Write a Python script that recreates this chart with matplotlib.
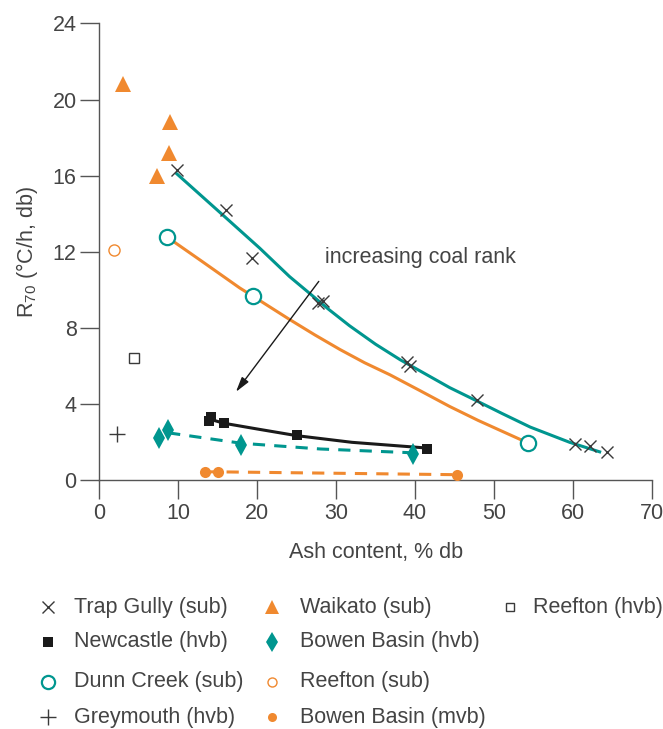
import matplotlib
matplotlib.use("Agg")
from matplotlib import pyplot as plt

plt.rcParams['font.family'] = ['Liberation Sans', 'DejaVu Sans']
plt.rcParams['mathtext.fontset'] = 'custom'
plt.rcParams['mathtext.rm'] = 'Liberation Sans'

TEAL = '#00968f'
ORANGE = '#f0892f'
GREY = '#3a3a3a'
TXT = '#444444'
FS = 15.5

# data
trap_x = [9.8, 16.0, 19.3, 27.7, 28.3, 39.0, 39.4, 47.8, 60.3, 62.2, 64.3]
trap_y = [16.3, 14.2, 11.7, 9.3, 9.4, 6.2, 6.0, 4.2, 1.9, 1.8, 1.5]
trap_fit_x = [9.8, 16.0, 20.3, 24.1, 26.7, 29.0, 31.7, 35.0, 38.1, 44.4, 47.8, 51.0, 54.6, 59.6, 63.4]
trap_fit_y = [16.1, 13.8, 12.2, 10.7, 9.8, 9.0, 8.12, 7.15, 6.34, 4.87, 4.18, 3.52, 2.8, 2.0, 1.5]

waikato_x = [3.0, 8.9, 8.8, 7.3]
waikato_y = [20.8, 18.8, 17.2, 16.0]

dunn_x = [8.5, 19.5, 54.3]
dunn_y = [12.8, 9.66, 1.97]
dunn_fit_x = [8.5, 13.0, 17.8, 19.5, 24.1, 27.3, 30.5, 33.6, 36.8, 40.6, 44.4, 48.0, 51.2, 54.3]
dunn_fit_y = [12.8, 11.5, 10.1, 9.66, 8.45, 7.64, 6.87, 6.18, 5.55, 4.72, 3.88, 3.15, 2.55, 1.97]

newc_x = [14.1, 13.9, 15.8, 25.0, 41.5]
newc_y = [3.35, 3.1, 3.0, 2.4, 1.65]
newc_fit_x = [14.1, 15.8, 20.0, 25.0, 32.0, 41.5]
newc_fit_y = [3.2, 3.0, 2.7, 2.35, 2.0, 1.7]

bowen_hvb_x = [7.5, 8.7, 18.0, 39.7]
bowen_hvb_y = [2.25, 2.65, 1.85, 1.4]
bowen_hvb_fit_x = [8.7, 18.0, 28.0, 39.7]
bowen_hvb_fit_y = [2.5, 1.95, 1.65, 1.45]

bowen_mvb_x = [13.4, 15.0, 45.3]
bowen_mvb_y = [0.45, 0.45, 0.3]

grey_x, grey_y = [2.2], [2.45]
reef_hvb_x, reef_hvb_y = [4.4], [6.45]
reef_sub_x, reef_sub_y = [1.8], [12.1]

arrow_start = (27.8, 10.45)
arrow_end = (17.3, 4.65)

fig = plt.figure(figsize=(6.63, 7.29), dpi=100)
ax = fig.add_axes([0.150, 0.341, 0.833, 0.627])

# trend lines
ax.plot(trap_fit_x, trap_fit_y, color=TEAL, lw=2.2, zorder=2)
ax.plot(dunn_fit_x, dunn_fit_y, color=ORANGE, lw=2.2, zorder=2)
ax.plot(newc_fit_x, newc_fit_y, color='#1a1a1a', lw=2.2, zorder=2)
ax.plot(bowen_hvb_fit_x, bowen_hvb_fit_y, color=TEAL, lw=2.2, ls=(0, (4, 3)), zorder=2)
ax.plot(bowen_mvb_x, bowen_mvb_y, color=ORANGE, lw=2.2, ls=(0, (4, 3)), zorder=2)

# points
ax.plot(trap_x, trap_y, 'x', color=GREY, ms=9, mew=1.0, zorder=4)
ax.plot(waikato_x, waikato_y, '^', color=ORANGE, ms=11, mew=0, zorder=4)
ax.plot(dunn_x, dunn_y, 'o', mfc='white', mec=TEAL, ms=11, mew=1.6, zorder=4)
ax.plot(newc_x, newc_y, 's', color='#1a1a1a', ms=7, mew=0, zorder=4)
ax.plot(bowen_hvb_x, bowen_hvb_y, 'd', color=TEAL, ms=11, mew=0, zorder=4)
ax.plot(bowen_mvb_x, bowen_mvb_y, 'o', color=ORANGE, ms=8, mew=0, zorder=4)
ax.plot(grey_x, grey_y, '+', color=GREY, ms=12, mew=1.0, zorder=4)
ax.plot(reef_hvb_x, reef_hvb_y, 's', mfc='white', mec=GREY, ms=6.5, mew=1.0, zorder=4)
ax.plot(reef_sub_x, reef_sub_y, 'o', mfc='white', mec=ORANGE, ms=8, mew=1.0, zorder=4)

ax.annotate('', xy=arrow_end, xytext=arrow_start,
            arrowprops=dict(arrowstyle='-|>,head_length=0.9,head_width=0.25',
                            color='#1a1a1a', lw=1.0, shrinkA=0, shrinkB=0), zorder=3)
ax.text(28.6, 11.7, 'increasing coal rank', fontsize=FS, color=TXT, va='center', ha='left')

ax.set_xlim(0, 70)
ax.set_ylim(0, 24)
ax.set_xticks(range(0, 71, 10))
ax.set_yticks(range(0, 25, 4))
ax.spines['top'].set_visible(False)
ax.spines['right'].set_visible(False)
for s in ('left', 'bottom'):
    ax.spines[s].set_color('#555555')
    ax.spines[s].set_linewidth(1.0)
ax.tick_params(direction='out', length=13.5, width=1.0, color='#555555',
               labelsize=FS, labelcolor=TXT, pad=3)
ax.set_xlabel('Ash content, % db', fontsize=FS, color=TXT, labelpad=13)
ax.set_ylabel(r'R$_{\mathrm{70}}$ (°C/h, db)', fontsize=FS, color=TXT, labelpad=9)

# legend below the plot, laid out in pixel coordinates
leg_ax = fig.add_axes([0, 0, 1, 1], zorder=-1)
leg_ax.set_xlim(0, 663)
leg_ax.set_ylim(729, 0)
leg_ax.axis('off')

legend_items = [
    ('Trap Gully (sub)', dict(marker='x', color=GREY, ms=8, mew=1.0)),
    ('Newcastle (hvb)', dict(marker='s', color='#1a1a1a', ms=6.5, mew=0)),
    ('Dunn Creek (sub)', dict(marker='o', mfc='white', mec=TEAL, ms=9.5, mew=1.6)),
    ('Greymouth (hvb)', dict(marker='+', color=GREY, ms=11, mew=1.0)),
    ('Waikato (sub)', dict(marker='^', color=ORANGE, ms=10, mew=0)),
    ('Bowen Basin (hvb)', dict(marker='d', color=TEAL, ms=10.5, mew=0)),
    ('Reefton (sub)', dict(marker='o', mfc='white', mec=ORANGE, ms=6.5, mew=1.0)),
    ('Bowen Basin (mvb)', dict(marker='o', color=ORANGE, ms=6.5, mew=0)),
    ('Reefton (hvb)', dict(marker='s', mfc='white', mec=GREY, ms=6, mew=1.0)),
]
col_marker_x = [48, 272, 510]
col_text_x = [74, 300, 533]
row_y = [607, 642, 682, 717]
for i, (label, style) in enumerate(legend_items):
    c, r = divmod(i, 4)
    leg_ax.plot([col_marker_x[c]], [row_y[r]], ls='', **style)
    leg_ax.text(col_text_x[c], row_y[r], label, fontsize=FS, color=TXT,
                va='center', ha='left')

fig.savefig('out.png', dpi=100)
